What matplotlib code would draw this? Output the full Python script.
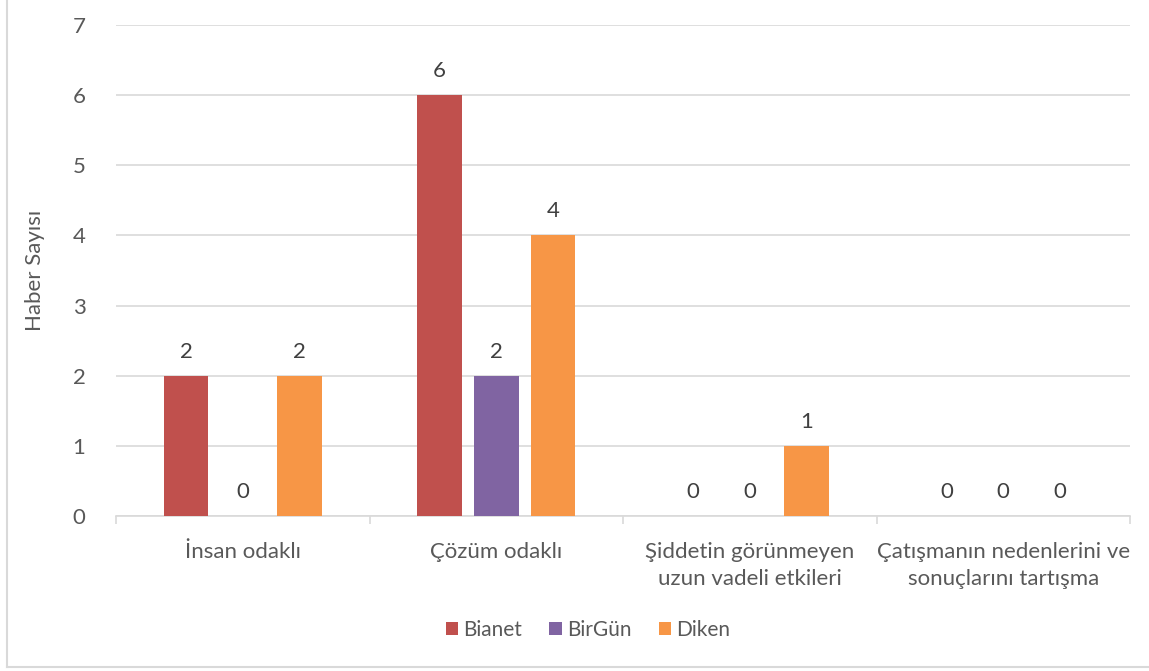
import matplotlib.pyplot as plt
import numpy as np
from matplotlib.lines import Line2D

plt.rcParams['font.family'] = ['Lato', 'DejaVu Sans']

categories = ["İnsan odaklı", "Çözüm odaklı",
              "Şiddetin görünmeyen\nuzun vadeli etkileri",
              "Çatışmanın nedenlerini ve\nsonuçlarını tartışma"]
series = ["Bianet", "BirGün", "Diken"]
bianet = [2, 6, 0, 0]
birgun = [0, 2, 0, 0]
diken = [2, 4, 1, 0]
colors = ["#C0504D", "#8064A2", "#F79646"]

text_col = "#595959"
grid_col = "#D9D9D9"
fs = 16

fig = plt.figure(figsize=(11.49, 6.71), dpi=100)
ax = fig.add_axes([116 / 1149, 1 - 516 / 671, (1130 - 116) / 1149, (516 - 25) / 671])

x = np.arange(len(categories))
width = 0.177
step = 0.224
for i, (name, vals) in enumerate(zip(series, [bianet, birgun, diken])):
    pos = x + (i - 1) * step
    ax.bar(pos, vals, width, color=colors[i], label=name, zorder=3)
    for p, v in zip(pos, vals):
        ax.text(p, v + 0.2, str(v), ha="center", va="bottom",
                fontsize=fs, color="#404040")

ax.set_xlim(-0.5, len(categories) - 0.5)
ax.set_ylim(0, 7)
ax.set_yticks(range(0, 8))
ax.yaxis.grid(True, color=grid_col, linewidth=1.2, zorder=0)
ax.set_axisbelow(True)
for s in ["top", "right", "left"]:
    ax.spines[s].set_visible(False)
ax.spines["bottom"].set_color(grid_col)
ax.spines["bottom"].set_linewidth(1.2)
ax.tick_params(axis="y", length=0, labelsize=fs, labelcolor=text_col, pad=22)

ax.set_xticks(x)
ax.set_xticklabels(categories, linespacing=1.4)
ax.tick_params(axis="x", length=0, labelsize=fs, labelcolor=text_col, pad=19)
ax.set_xticks(np.arange(-0.5, len(categories)), minor=True)
ax.tick_params(axis="x", which="minor", length=6, color=grid_col, width=1.2,
               direction="out")

ax.set_ylabel("Haber Sayısı", fontsize=fs, color=text_col, labelpad=20)

ax.legend(loc="center", bbox_to_anchor=(588 / 1149, 1 - 630 / 671),
          bbox_transform=fig.transFigure, ncol=3, frameon=False,
          fontsize=15, labelcolor=text_col, handlelength=0.6, handleheight=0.6,
          handletextpad=0.25, columnspacing=1.3)

# chart border
fig.add_artist(Line2D([7 / 1149, 7 / 1149], [1 - 667 / 671, 1], color=grid_col,
                      linewidth=1.5, transform=fig.transFigure))
fig.add_artist(Line2D([7 / 1149, 1], [1 - 667 / 671, 1 - 667 / 671], color=grid_col,
                      linewidth=1.5, transform=fig.transFigure))

fig.savefig("out.png", dpi=100)
